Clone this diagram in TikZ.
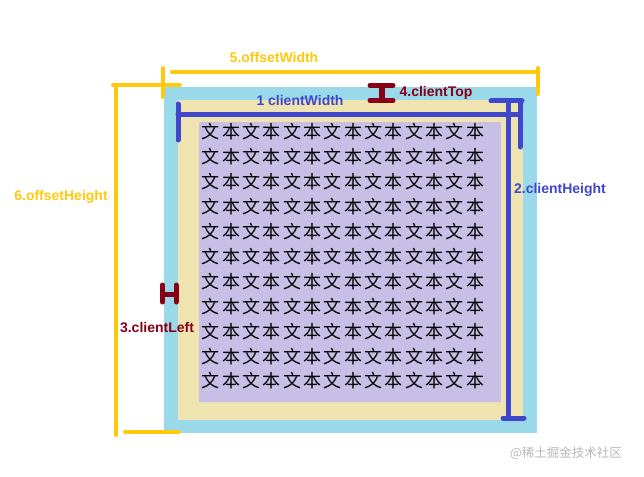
\documentclass[tikz,border=0pt]{standalone}
\usepackage{fontspec}
\setmainfont{Liberation Sans}
\newfontfamily\cjk[LetterSpace=13]{Noto Sans CJK SC}
\newfontfamily\cjkwm{Noto Sans CJK SC}
\definecolor{pgold}{HTML}{FFC90E}
\definecolor{pblue}{HTML}{3F48CC}
\definecolor{pred}{HTML}{880015}
\definecolor{pcyan}{HTML}{99D9EA}
\definecolor{pbeige}{HTML}{EFE4B0}
\definecolor{plav}{HTML}{C8BFE7}
\tikzset{
  ybar/.style={draw=pgold,line width=4pt,line cap=round},
  bbar/.style={draw=pblue,line width=5pt,line cap=round},
  rbar/.style={draw=pred,line width=5pt,line cap=round},
  lbl/.style={font=\bfseries\fontsize{14}{16}\selectfont,inner sep=0pt},
  row/.style={font=\cjk\fontsize{18}{20}\selectfont,inner sep=0pt,anchor=west,text=black},
}
\begin{document}
\begin{tikzpicture}[x=1pt,y=-1pt]
\useasboundingbox[fill=white] (0,0) rectangle (644,476);
% boxes
\fill[pcyan] (164,87) rectangle (537,433);
\fill[pbeige] (178,100) rectangle (523,420);
\fill[plav,rounded corners=1pt] (199,122) rectangle (501,402);
% text rows
\foreach \i in {0,...,10}{
  \node[row] (r\i) at (201.5,{132+24.9*\i}) {文本文本文本文本文本文本文本};
}
% offsetWidth
\coordinate (owL) at (172,72);
\coordinate (owR) at (538,72);
\coordinate (owRt) at (538,68);
\coordinate (owRb) at (538,94);
\coordinate (owTt) at (163,68);
\coordinate (owTb) at (163,97);
\draw[ybar] (owL) -- (owR);
\draw[ybar] (owRt) -- (owRb);
\draw[ybar] (owTt) -- (owTb);
% offsetHeight
\coordinate (ohT) at (116,85);
\coordinate (ohB) at (116,435);
\coordinate (ohTl) at (113,85);
\coordinate (ohTr) at (180,85);
\coordinate (ohBl) at (125,432);
\coordinate (ohBr) at (179,432);
\draw[ybar] (ohTl) -- (ohTr);
\draw[ybar] (ohT) -- (ohB);
\draw[ybar] (ohBl) -- (ohBr);
% clientWidth
\coordinate (cwL) at (178,114);
\coordinate (cwR) at (520,114);
\coordinate (cwLt) at (178,104);
\coordinate (cwLb) at (178,140);
\coordinate (cwRt) at (520,101);
\coordinate (cwRb) at (520,147);
\draw[bbar] (cwL) -- (cwR);
\draw[bbar] (cwLt) -- (cwLb);
\draw[bbar] (cwRt) -- (cwRb);
% clientHeight
\coordinate (chT) at (508,101);
\coordinate (chB) at (508,418);
\coordinate (chTl) at (491,101);
\coordinate (chTr) at (522,101);
\coordinate (chBl) at (503,418);
\coordinate (chBr) at (524,418);
\draw[bbar] (chT) -- (chB);
\draw[bbar] (chTl) -- (chTr);
\draw[bbar] (chBl) -- (chBr);
% clientTop I-beam
\coordinate (ctT) at (381.5,86);
\coordinate (ctB) at (381.5,100);
\coordinate (ctTl) at (370,85.5);
\coordinate (ctTr) at (393,85.5);
\coordinate (ctBl) at (370,100.5);
\coordinate (ctBr) at (393,100.5);
\draw[rbar,line width=6pt,line cap=butt] (ctT) -- (ctB);
\draw[rbar] (ctTl) -- (ctTr);
\draw[rbar] (ctBl) -- (ctBr);
% clientLeft H
\coordinate (clLt) at (162.5,285);
\coordinate (clLb) at (162.5,302);
\coordinate (clRt) at (176,285);
\coordinate (clRb) at (176,302);
\coordinate (clM1) at (162.5,294.5);
\coordinate (clM2) at (176,294.5);
\draw[rbar] (clLt) -- (clLb);
\draw[rbar] (clRt) -- (clRb);
\draw[rbar,line cap=butt] (clM1) -- (clM2);
% labels
\node[lbl,text=pgold] (l5) at (274,57) {5.offsetWidth};
\node[lbl,text=pgold] (l6) at (61,197) {6.offsetHeight};
\node[lbl,text=pblue] (l1) at (300,100) {1 clientWidth};
\node[lbl,text=pblue] (l2) at (560,190) {2.clientHeight};
\node[lbl,text=pred] (l4) at (436,93) {4.clientTop};
\node[lbl,text=pred] (l3) at (157,328) {3.clientLeft};
% watermark
\node[font=\cjkwm\fontsize{12.5}{14}\selectfont,text=black!28,inner sep=0pt] (wm) at (566,453) {@稀土掘金技术社区};
\end{tikzpicture}
\end{document}
